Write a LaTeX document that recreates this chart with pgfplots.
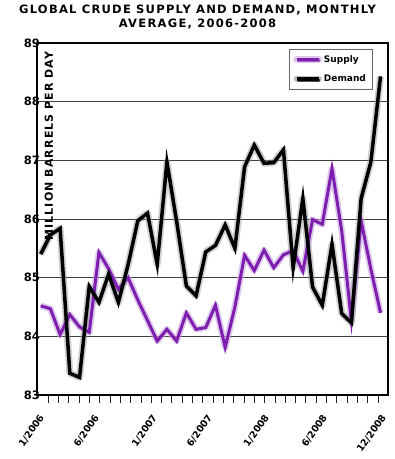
\documentclass[border=0pt]{standalone}
\usepackage{pgfplots}
\pgfplotsset{compat=1.18}
\usepackage{pgfplotstable}
\usepackage{fontspec}
\setmainfont{DejaVu Sans}
\newfontfamily\titlefont[LetterSpace=11]{DejaVu Sans}
\newfontfamily\labelfont[LetterSpace=10]{DejaVu Sans}
\usetikzlibrary{shadows}
\definecolor{supplyc}{RGB}{125,30,175}
\definecolor{supplyh}{RGB}{200,165,225}
\definecolor{demandh}{RGB}{150,150,150}

\pgfplotstableread{
idx supply demand
0 84.52 85.40
1 84.47 85.73
2 84.03 85.84
3 84.37 83.37
4 84.16 83.30
5 84.07 84.85
6 85.43 84.58
7 85.15 85.06
8 84.80 84.58
9 85.00 85.22
10 84.62 85.97
11 84.27 86.10
12 83.92 85.23
13 84.12 86.97
14 83.92 85.96
15 84.40 84.86
16 84.12 84.69
17 84.15 85.44
18 84.53 85.55
19 83.81 85.90
20 84.50 85.50
21 85.38 86.89
22 85.12 87.26
23 85.47 86.95
24 85.17 86.96
25 85.39 87.18
26 85.46 85.17
27 85.11 86.35
28 85.99 84.84
29 85.91 84.53
30 86.86 85.57
31 85.80 84.39
32 84.27 84.23
33 85.97 86.35
34 85.15 86.97
35 84.40 88.43
}\datatable

\begin{document}
\begin{tikzpicture}
\path[use as bounding box] (0,0) rectangle (395bp,459bp);
\node[anchor=north, align=center, font=\titlefont\bfseries\fontsize{11.5bp}{14.3bp}\selectfont] at (197.5bp,457.5bp)
  {GLOBAL CRUDE SUPPLY AND DEMAND, MONTHLY\\AVERAGE, 2006-2008};
\begin{axis}[
  at={(37.3bp,64bp)}, anchor=south west,
  scale only axis, width=351bp, height=352bp,
  xmin=-0.35, xmax=35.8, ymin=83, ymax=89,
  clip=false,
  ytick={83,84,...,89},
  ymajorgrids,
  major grid style={black!75, line width=0.7bp},
  axis line style={line width=2bp},
  /pgf/number format/assume math mode=true,
  yticklabel style={font=\bfseries\fontsize{11.5bp}{11.5bp}\selectfont, xshift=6bp},
  xtick={0.13,5.8,11.77,17.44,23.3,29.28,35.35},
  xticklabels={1/2006,6/2006,1/2007,6/2007,1/2008,6/2008,12/2008},
  xticklabel style={xshift=2bp, yshift=-18bp, rotate=55, anchor=east, font=\bfseries\fontsize{9.5bp}{9.5bp}\selectfont},
  major tick length=0pt,
  legend style={at={(rel axis cs:0.954,0.983)}, anchor=north east,
    draw=black!60, fill=white, line width=0.6bp,
    font=\bfseries\fontsize{9bp}{9bp}\selectfont,
    drop shadow={shadow xshift=1.5bp, shadow yshift=-1.5bp, opacity=0.35},
    inner sep=4bp, row sep=7bp},
  legend cell align=left,
  legend image code/.code={
    \draw[#1, line width=6.5bp, draw opacity=0.25, line cap=round] (0bp,0bp) -- (22bp,0bp);
    \draw[#1] (0bp,0bp) -- (22bp,0bp);},
]
\addplot[supplyh, line width=6.5bp, line join=round, opacity=0.6, forget plot] table[x=idx, y=supply] {\datatable};
\addplot[demandh, line width=7bp, line join=round, opacity=0.45, forget plot] table[x=idx, y=demand] {\datatable};
\addplot[supplyc, line width=3bp, line join=miter] table[x=idx, y=supply] {\datatable};
\addlegendentry{Supply}
\addplot[black, line width=3.5bp, line join=miter] table[x=idx, y=demand] {\datatable};
\addlegendentry{Demand}
\pgfplotsinvokeforeach{0.78,1.841,...,34.8}{
  \draw[black!85, line width=0.8bp] (axis cs:#1,82.985) -- (axis cs:#1,82.87);
}
\node[rotate=90, anchor=east, font=\labelfont\bfseries\fontsize{11bp}{11bp}\selectfont] at (rel axis cs:0.033,0.986) {MILLION BARRELS PER DAY};
\end{axis}
\end{tikzpicture}
\end{document}
